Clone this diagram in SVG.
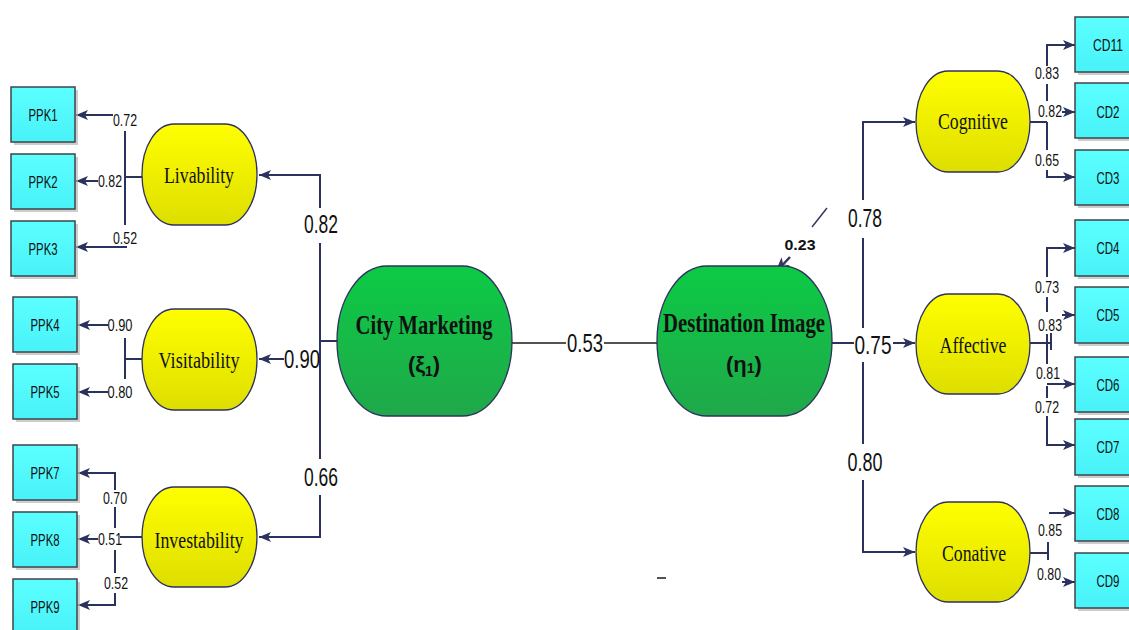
<svg xmlns="http://www.w3.org/2000/svg" width="1129" height="630" viewBox="0 0 1129 630">
  <defs>
    <linearGradient id="gYellow" x1="0" y1="0" x2="0" y2="1">
      <stop offset="0" stop-color="#FFFF00"/>
      <stop offset="1" stop-color="#DEDE00"/>
    </linearGradient>
    <linearGradient id="gGreen" x1="0" y1="0" x2="0" y2="1">
      <stop offset="0" stop-color="#0CCB45"/>
      <stop offset="1" stop-color="#20A84A"/>
    </linearGradient>
    <linearGradient id="gCyan" x1="0" y1="0" x2="0" y2="1">
      <stop offset="0" stop-color="#5CFFFF"/>
      <stop offset="1" stop-color="#48F2F8"/>
    </linearGradient>
    <marker id="ah" markerWidth="12" markerHeight="10" refX="12" refY="5" orient="auto" markerUnits="userSpaceOnUse">
      <path d="M0,0 L12,5 L0,10 L3,5 z" fill="#2B325E"/>
    </marker>
    <marker id="ahBig" markerWidth="16" markerHeight="12" refX="16" refY="6" orient="auto" markerUnits="userSpaceOnUse">
      <path d="M0,0 L16,6 L0,12 L4,6 z" fill="#3A3560"/>
    </marker>
    <style>
      .box { fill: url(#gCyan); stroke: #3E4448; stroke-width: 1.5; }
      .shadow { fill: #B8B8B8; opacity: 0.7; }
      .lat { fill: url(#gYellow); stroke: #2E3060; stroke-width: 1.3; }
      .main { fill: url(#gGreen); stroke: #2E3060; stroke-width: 1.3; }
      .ind { font-family: "Liberation Sans", Arial, sans-serif; font-size: 16px; fill: #111; text-anchor: middle; }
      .cd { font-family: "Liberation Sans", Arial, sans-serif; font-size: 17px; fill: #111; text-anchor: middle; }
      .lt { font-family: "Liberation Serif", "Times New Roman", serif; font-size: 24px; fill: #111; text-anchor: middle; }
      .mt { font-family: "Liberation Serif", "Times New Roman", serif; font-size: 28px; font-weight: bold; fill: #111; text-anchor: middle; }
      .sym { font-family: "Liberation Sans", Arial, sans-serif; font-size: 22px; font-weight: bold; fill: #111; text-anchor: middle; }
      .big { font-family: "Liberation Sans", Arial, sans-serif; font-size: 25px; fill: #111; text-anchor: middle; }
      .sm { font-family: "Liberation Sans", Arial, sans-serif; font-size: 15px; fill: #111; text-anchor: middle; }
      .conn path { fill: none; stroke: #2B325E; stroke-width: 2; }
      .conn path.arr { marker-end: url(#ah); }
      .conn path.thin { stroke: #1A1A1A; stroke-width: 1.5; }
    </style>
  </defs>

  <rect width="1129" height="630" fill="#FFFFFF"/>

  <!-- connectors -->
  <g id="connectors" class="conn">
    <!-- City Marketing to its dimensions -->
    <path d="M337,341 H320"/>
    <path class="arr" d="M320,208 V175 H259"/>
    <path d="M320,243 V459"/>
    <path class="arr" d="M320,495 V537 H259"/>
    <path class="arr" d="M284,359 H259"/>
    <!-- structural path -->
    <path class="thin" d="M512,343 H566"/>
    <path class="thin" d="M604,343 H657"/>
    <!-- Destination Image to its dimensions -->
    <path d="M832,343 H854"/>
    <path class="arr" d="M893,343 H915"/>
    <path class="arr" d="M863,200 V122 H915"/>
    <path d="M863,238 V328"/>
    <path d="M863,362 V444"/>
    <path class="arr" d="M863,480 V552 H915"/>
    <!-- R-square pointer -->
    <path class="thin" d="M812,227 L827,208" style="stroke:#3A3560"/>
    <path d="M790,257 L775,273" style="stroke:#3A3560;stroke-width:2.5;marker-end:url(#ahBig)"/>
    <path d="M776,272 L786,265" style="stroke:#A8EEB8;stroke-width:2"/>

    <!-- Livability indicators -->
    <path d="M142,177 H125"/>
    <path d="M125,131 V225"/>
    <path class="arr" d="M113,115 H76"/>
    <path class="arr" d="M98,181 H76"/>
    <path class="arr" d="M127,247 H76"/>
    <!-- Visitability indicators -->
    <path d="M142,359 H125"/>
    <path d="M125,338 V379"/>
    <path class="arr" d="M108,325 H78"/>
    <path class="arr" d="M108,392 H78"/>
    <!-- Investability indicators -->
    <path d="M142,537 H120"/>
    <path class="arr" d="M115,490 V473 H78"/>
    <path d="M115,507 V528"/>
    <path class="arr" d="M98,539 H78"/>
    <path d="M115,550 V573"/>
    <path class="arr" d="M115,593 V605 H78"/>

    <!-- Cognitive indicators -->
    <path d="M1030,122 H1047"/>
    <path class="arr" d="M1047,66 V45 H1075"/>
    <path d="M1047,84 V101"/>
    <path class="arr" d="M1062,112 H1075"/>
    <path d="M1047,122 V150"/>
    <path class="arr" d="M1047,170 V177 H1075"/>
    <!-- Affective indicators -->
    <path d="M1030,343 H1050"/>
    <path class="arr" d="M1047,277 V248 H1075"/>
    <path d="M1047,297 V312"/>
    <path class="arr" d="M1062,315 H1075"/>
    <path d="M1047,334 V364"/>
    <path d="M1051,333 V350"/>
    <path class="arr" d="M1047,384 H1075"/>
    <path d="M1047,386 V398"/>
    <path class="arr" d="M1047,416 V445 H1075"/>
    <!-- Conative indicators -->
    <path d="M1030,553 H1048"/>
    <path d="M1048,542 V560"/>
    <path class="arr" d="M1049,513 H1075"/>
    <path class="arr" d="M1062,582 H1075"/>
    <path class="thin" d="M657,578 H666"/>
  </g>

  <!-- path coefficients -->
  <g id="coefficients">
    <text class="big" x="321" y="233" textLength="34" lengthAdjust="spacingAndGlyphs">0.82</text>
    <text class="big" x="302" y="368" textLength="36" lengthAdjust="spacingAndGlyphs">0.90</text>
    <text class="big" x="321" y="486" textLength="34" lengthAdjust="spacingAndGlyphs">0.66</text>
    <text class="big" x="585" y="352" textLength="36" lengthAdjust="spacingAndGlyphs">0.53</text>
    <text class="big" x="865" y="227" textLength="34" lengthAdjust="spacingAndGlyphs">0.78</text>
    <text class="big" x="873" y="354" textLength="37" lengthAdjust="spacingAndGlyphs">0.75</text>
    <text class="big" x="865" y="471" textLength="35" lengthAdjust="spacingAndGlyphs">0.80</text>
    <text class="sm" x="800" y="250" font-weight="bold" font-size="18" textLength="31" lengthAdjust="spacingAndGlyphs">0.23</text>
  </g>

  <!-- loadings -->
  <g id="loadings">
    <text class="ind" x="125" y="126" textLength="24" lengthAdjust="spacingAndGlyphs">0.72</text>
    <text class="ind" x="110" y="187" textLength="24" lengthAdjust="spacingAndGlyphs">0.82</text>
    <text class="ind" x="125" y="244" textLength="24" lengthAdjust="spacingAndGlyphs">0.52</text>
    <text class="ind" x="120" y="331" textLength="25" lengthAdjust="spacingAndGlyphs">0.90</text>
    <text class="ind" x="120" y="398" textLength="25" lengthAdjust="spacingAndGlyphs">0.80</text>
    <text class="ind" x="115" y="504" textLength="24" lengthAdjust="spacingAndGlyphs">0.70</text>
    <text class="ind" x="110" y="545" textLength="24" lengthAdjust="spacingAndGlyphs">0.51</text>
    <text class="ind" x="116" y="589" textLength="24" lengthAdjust="spacingAndGlyphs">0.52</text>
    <text class="ind" x="1047" y="79" textLength="24" lengthAdjust="spacingAndGlyphs">0.83</text>
    <text class="ind" x="1050" y="117" textLength="24" lengthAdjust="spacingAndGlyphs">0.82</text>
    <text class="ind" x="1047" y="166" textLength="24" lengthAdjust="spacingAndGlyphs">0.65</text>
    <text class="ind" x="1047" y="293" textLength="24" lengthAdjust="spacingAndGlyphs">0.73</text>
    <text class="ind" x="1050" y="331" textLength="24" lengthAdjust="spacingAndGlyphs">0.83</text>
    <text class="ind" x="1048" y="379" textLength="24" lengthAdjust="spacingAndGlyphs">0.81</text>
    <text class="ind" x="1047" y="413" textLength="24" lengthAdjust="spacingAndGlyphs">0.72</text>
    <text class="ind" x="1050" y="536" textLength="24" lengthAdjust="spacingAndGlyphs">0.85</text>
    <text class="ind" x="1049" y="580" textLength="24" lengthAdjust="spacingAndGlyphs">0.80</text>
  </g>

  <!-- main constructs -->
  <g id="city-marketing">
    <rect class="main" x="337" y="266" width="175" height="150" rx="50" ry="75"/>
    <text class="mt" x="424" y="334" textLength="137" lengthAdjust="spacingAndGlyphs">City Marketing</text>
    <text class="sym" x="424" y="372">(ξ<tspan font-size="14" dy="4">1</tspan><tspan dy="-4">)</tspan></text>
  </g>
  <g id="destination-image">
    <rect class="main" x="657" y="266" width="175" height="150" rx="50" ry="75"/>
    <text class="mt" x="744" y="332" textLength="162" lengthAdjust="spacingAndGlyphs">Destination Image</text>
    <text class="sym" x="744" y="372">(η<tspan font-size="14" dy="1">1</tspan><tspan dy="-1">)</tspan></text>
  </g>

  <!-- dimensions -->
  <g id="livability">
    <rect class="lat" x="142" y="124" width="115" height="101" rx="32" ry="50"/>
    <text class="lt" x="199" y="183" textLength="70" lengthAdjust="spacingAndGlyphs">Livability</text>
  </g>
  <g id="visitability">
    <rect class="lat" x="142" y="309" width="115" height="101" rx="32" ry="50"/>
    <text class="lt" x="199" y="368" textLength="81" lengthAdjust="spacingAndGlyphs">Visitability</text>
  </g>
  <g id="investability">
    <rect class="lat" x="142" y="487" width="115" height="100" rx="32" ry="50"/>
    <text class="lt" x="199" y="548" textLength="89" lengthAdjust="spacingAndGlyphs">Investability</text>
  </g>
  <g id="cognitive">
    <rect class="lat" x="916" y="71" width="114" height="101" rx="32" ry="50"/>
    <text class="lt" x="973" y="129" textLength="70" lengthAdjust="spacingAndGlyphs">Cognitive</text>
  </g>
  <g id="affective">
    <rect class="lat" x="916" y="294" width="114" height="100" rx="32" ry="50"/>
    <text class="lt" x="973" y="353" textLength="67" lengthAdjust="spacingAndGlyphs">Affective</text>
  </g>
  <g id="conative">
    <rect class="lat" x="916" y="502" width="114" height="100" rx="32" ry="50"/>
    <text class="lt" x="974" y="561" textLength="64" lengthAdjust="spacingAndGlyphs">Conative</text>
  </g>

  <!-- indicators, left -->
  <g id="ppk1"><rect class="shadow" x="14" y="90" width="64" height="55"/><rect class="box" x="11" y="87" width="64" height="55"/><text class="ind" x="43" y="121" textLength="29" lengthAdjust="spacingAndGlyphs">PPK1</text></g>
  <g id="ppk2"><rect class="shadow" x="14" y="157" width="64" height="55"/><rect class="box" x="11" y="154" width="64" height="55"/><text class="ind" x="43" y="188" textLength="29" lengthAdjust="spacingAndGlyphs">PPK2</text></g>
  <g id="ppk3"><rect class="shadow" x="14" y="224" width="64" height="55"/><rect class="box" x="11" y="221" width="64" height="55"/><text class="ind" x="43" y="255" textLength="29" lengthAdjust="spacingAndGlyphs">PPK3</text></g>
  <g id="ppk4"><rect class="shadow" x="16" y="300" width="64" height="55"/><rect class="box" x="13" y="297" width="64" height="55"/><text class="ind" x="45" y="331" textLength="29" lengthAdjust="spacingAndGlyphs">PPK4</text></g>
  <g id="ppk5"><rect class="shadow" x="16" y="367" width="64" height="55"/><rect class="box" x="13" y="364" width="64" height="55"/><text class="ind" x="45" y="398" textLength="29" lengthAdjust="spacingAndGlyphs">PPK5</text></g>
  <g id="ppk7"><rect class="shadow" x="16" y="448" width="64" height="55"/><rect class="box" x="13" y="445" width="64" height="55"/><text class="ind" x="45" y="479" textLength="29" lengthAdjust="spacingAndGlyphs">PPK7</text></g>
  <g id="ppk8"><rect class="shadow" x="16" y="515" width="64" height="55"/><rect class="box" x="13" y="512" width="64" height="55"/><text class="ind" x="45" y="546" textLength="29" lengthAdjust="spacingAndGlyphs">PPK8</text></g>
  <g id="ppk9"><rect class="shadow" x="16" y="582" width="64" height="55"/><rect class="box" x="13" y="579" width="64" height="55"/><text class="ind" x="45" y="613" textLength="29" lengthAdjust="spacingAndGlyphs">PPK9</text></g>

  <!-- indicators, right -->
  <g id="cd11"><rect class="shadow" x="1078" y="20" width="66" height="55"/><rect class="box" x="1075" y="17" width="66" height="55"/><text class="cd" x="1108" y="51" textLength="30" lengthAdjust="spacingAndGlyphs">CD11</text></g>
  <g id="cd2"><rect class="shadow" x="1078" y="86" width="66" height="55"/><rect class="box" x="1075" y="83" width="66" height="55"/><text class="cd" x="1108" y="118" textLength="23" lengthAdjust="spacingAndGlyphs">CD2</text></g>
  <g id="cd3"><rect class="shadow" x="1078" y="153" width="66" height="55"/><rect class="box" x="1075" y="150" width="66" height="55"/><text class="cd" x="1108" y="184" textLength="23" lengthAdjust="spacingAndGlyphs">CD3</text></g>
  <g id="cd4"><rect class="shadow" x="1078" y="223" width="66" height="56"/><rect class="box" x="1075" y="220" width="66" height="56"/><text class="cd" x="1108" y="254" textLength="23" lengthAdjust="spacingAndGlyphs">CD4</text></g>
  <g id="cd5"><rect class="shadow" x="1078" y="290" width="66" height="56"/><rect class="box" x="1075" y="287" width="66" height="56"/><text class="cd" x="1108" y="321" textLength="23" lengthAdjust="spacingAndGlyphs">CD5</text></g>
  <g id="cd6"><rect class="shadow" x="1078" y="360" width="66" height="55"/><rect class="box" x="1075" y="357" width="66" height="55"/><text class="cd" x="1108" y="391" textLength="23" lengthAdjust="spacingAndGlyphs">CD6</text></g>
  <g id="cd7"><rect class="shadow" x="1078" y="422" width="66" height="56"/><rect class="box" x="1075" y="419" width="66" height="56"/><text class="cd" x="1108" y="453" textLength="23" lengthAdjust="spacingAndGlyphs">CD7</text></g>
  <g id="cd8"><rect class="shadow" x="1078" y="489" width="66" height="55"/><rect class="box" x="1075" y="486" width="66" height="55"/><text class="cd" x="1108" y="520" textLength="23" lengthAdjust="spacingAndGlyphs">CD8</text></g>
  <g id="cd9"><rect class="shadow" x="1078" y="556" width="66" height="55"/><rect class="box" x="1075" y="553" width="66" height="55"/><text class="cd" x="1108" y="587" textLength="23" lengthAdjust="spacingAndGlyphs">CD9</text></g>
</svg>
